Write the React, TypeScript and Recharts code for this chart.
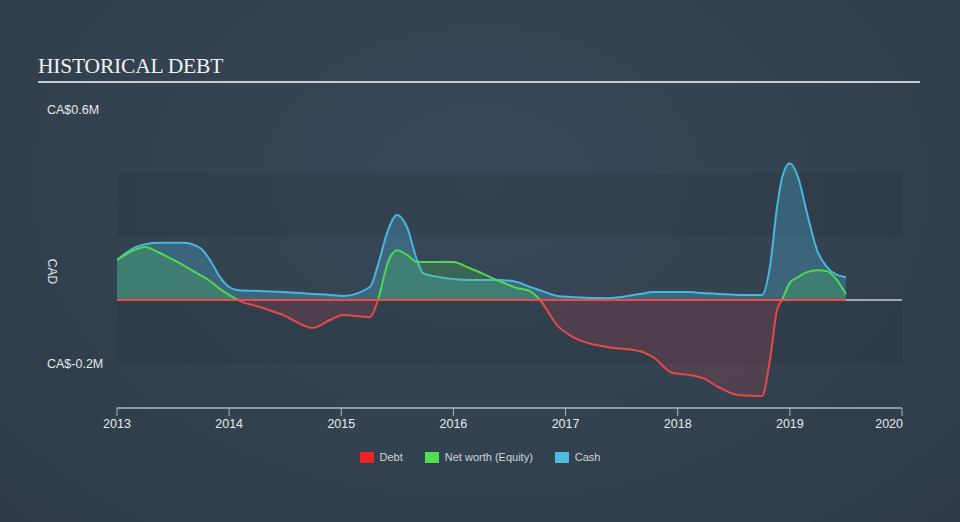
import React from 'react'
import {
  ComposedChart,
  Area,
  Line,
  XAxis,
  YAxis,
  ReferenceArea,
  ReferenceLine,
} from 'recharts'

// decimal years of each sample
const dates = [
  2013.0, 2013.152, 2013.25, 2013.383, 2013.589, 2013.74, 2013.829, 2013.918, 2013.999, 2014.079,
  2014.302, 2014.48, 2014.748, 2014.899, 2015.015, 2015.256, 2015.327, 2015.417, 2015.497, 2015.586,
  2015.675, 2015.729, 2015.88, 2015.996, 2016.148, 2016.389, 2016.567, 2016.683, 2016.772, 2016.924,
  2017.084, 2017.37, 2017.664, 2017.78, 2017.958, 2018.11, 2018.226, 2018.378, 2018.556, 2018.752,
  2018.822, 2018.886, 2018.93, 2019.0, 2019.073, 2019.153, 2019.242, 2019.331, 2019.42, 2019.5,
]

// values in CA$ millions
const cash = [
  0.126, 0.164, 0.176, 0.18, 0.18, 0.164, 0.126, 0.072, 0.041, 0.031,
  0.028, 0.025, 0.019, 0.016, 0.013, 0.041, 0.11, 0.22, 0.268, 0.23,
  0.126, 0.085, 0.072, 0.066, 0.063, 0.063, 0.057, 0.041, 0.031, 0.013,
  0.009, 0.006, 0.019, 0.025, 0.025, 0.025, 0.022, 0.019, 0.016, 0.016,
  0.104, 0.293, 0.384, 0.431, 0.387, 0.274, 0.157, 0.104, 0.079, 0.072,
]

const equity = [
  0.126, 0.157, 0.167, 0.148, 0.11, 0.079, 0.06, 0.035, 0.016, 0,
  -0.025, -0.047, -0.088, -0.063, -0.047, -0.054, 0, 0.12, 0.157, 0.142,
  0.12, 0.12, 0.12, 0.12, 0.1, 0.063, 0.038, 0.028, 0, -0.079,
  -0.12, -0.148, -0.161, -0.18, -0.23, -0.236, -0.246, -0.277, -0.3, -0.302,
  -0.189, -0.031, 0, 0.054, 0.072, 0.088, 0.094, 0.091, 0.063, 0.019,
]

const debt = dates.map(() => 0)

const yearTicks = [2013, 2014, 2015, 2016, 2017, 2018, 2019, 2020]
const valueTicks = [-0.2, 0.6]

const chartData = dates.map((d, i) => ({
  date: d,
  cash: cash[i],
  equity: equity[i],
  debt: debt[i],
}))

const eqMax = Math.max(...equity)
const eqMin = Math.min(...equity)
const zeroOffset = eqMax / (eqMax - eqMin)

const LEGEND = [
  { name: 'Debt', color: '#e8262a' },
  { name: 'Net worth (Equity)', color: '#4fe04f' },
  { name: 'Cash', color: '#4bbbe0' },
]

const FONT = "'Liberation Sans', Arial, sans-serif"

const YTick = (props: any) => {
  const { y, payload } = props
  return (
    <text x={47} y={y} dy={4} fill="#e6e9ec" fontSize={12.5} fontFamily={FONT}>
      {`CA$${payload.value}M`}
    </text>
  )
}

const XTick = (props: any) => {
  const { x, y, payload } = props
  const last = payload.value === 2020
  return (
    <text
      x={last ? x + 1 : x}
      y={y}
      dy={10}
      textAnchor={last ? 'end' : 'middle'}
      fill="#e6e9ec"
      fontSize={12.5}
      fontFamily={FONT}
    >
      {payload.value}
    </text>
  )
}

export default function App() {
  return (
    <div
      style={{
        position: 'absolute',
        left: 0,
        top: 0,
        width: 960,
        height: 522,
        background: 'radial-gradient(ellipse at 50% 35%, #384859 0%, #334250 55%, #2e3a47 100%)',
        overflow: 'hidden',
      }}
    >
      <div
        style={{
          position: 'absolute',
          left: 38,
          top: 54,
          fontFamily: "'Liberation Serif', 'Times New Roman', serif",
          fontSize: 21.5,
          color: '#f0f0f0',
          letterSpacing: -0.2,
          lineHeight: 1.15,
        }}
      >
        HISTORICAL DEBT
      </div>
      <div style={{ position: 'absolute', left: 38, top: 81, width: 882, height: 1.5, background: '#c5cbd1' }} />
      <div style={{ position: 'absolute', left: 0, top: 0 }}>
        <ComposedChart
          width={960}
          height={522}
          data={chartData}
          margin={{ top: 109.5, right: 58, bottom: 84, left: 48 }}
        >
          <defs>
            <linearGradient id="eqStroke" x1="0" y1="0" x2="0" y2="1">
              <stop offset={zeroOffset} stopColor="#4fd84f" />
              <stop offset={zeroOffset} stopColor="#e84848" />
            </linearGradient>
            <linearGradient id="eqFill" x1="0" y1="0" x2="0" y2="1">
              <stop offset={zeroOffset} stopColor="#4fd84f" stopOpacity={0.35} />
              <stop offset={zeroOffset} stopColor="#c0404c" stopOpacity={0.35} />
            </linearGradient>
          </defs>
          <ReferenceArea y1={0.2} y2={0.4} x1={2013} x2={2020} fill="#000000" fillOpacity={0.07} stroke="none" />
          <ReferenceArea y1={-0.2} y2={0} x1={2013} x2={2020} fill="#000000" fillOpacity={0.07} stroke="none" />
          <XAxis
            dataKey="date"
            type="number"
            domain={[2013, 2020]}
            ticks={yearTicks}
            height={30}
            tick={<XTick />}
            tickSize={8}
            stroke="#a9b6c3"
            axisLine={{ stroke: '#a9b6c3', strokeWidth: 1.5 }}
            tickLine={{ stroke: '#a9b6c3' }}
            allowDataOverflow
          />
          <YAxis
            type="number"
            domain={[-0.34, 0.6]}
            ticks={valueTicks}
            width={69}
            axisLine={false}
            tickLine={false}
            tick={<YTick />}
            label={{
              value: 'CAD',
              angle: 90,
              position: 'insideLeft',
              offset: 0,
              dx: 4,
              fill: '#e6e9ec',
              fontSize: 12,
              fontFamily: FONT,
            }}
            allowDataOverflow
          />
          <ReferenceLine y={0} stroke="#c8cdd2" strokeWidth={1.5} />
          <Area
            type="monotone"
            dataKey="cash"
            stroke="#4bb6dd"
            strokeWidth={2}
            fill="#4bb6dd"
            fillOpacity={0.3}
            baseValue={0}
            isAnimationActive={false}
            dot={false}
            activeDot={false}
          />
          <Area
            type="monotone"
            dataKey="equity"
            stroke="url(#eqStroke)"
            strokeWidth={2}
            fill="url(#eqFill)"
            baseValue={0}
            isAnimationActive={false}
            dot={false}
            activeDot={false}
          />
          <Line
            type="monotone"
            dataKey="debt"
            stroke="#ee4a4a"
            strokeWidth={2}
            dot={false}
            activeDot={false}
            isAnimationActive={false}
          />
        </ComposedChart>
      </div>
      <div
        style={{
          position: 'absolute',
          top: 451,
          left: 0,
          width: 960,
          display: 'flex',
          justifyContent: 'center',
          gap: 22,
          fontFamily: FONT,
          fontSize: 11,
          color: '#d0d5da',
        }}
      >
        {LEGEND.map((l) => (
          <div key={l.name} style={{ display: 'flex', alignItems: 'center' }}>
            <span style={{ width: 14, height: 11, background: l.color, display: 'inline-block', marginRight: 6 }} />
            {l.name}
          </div>
        ))}
      </div>
    </div>
  )
}
